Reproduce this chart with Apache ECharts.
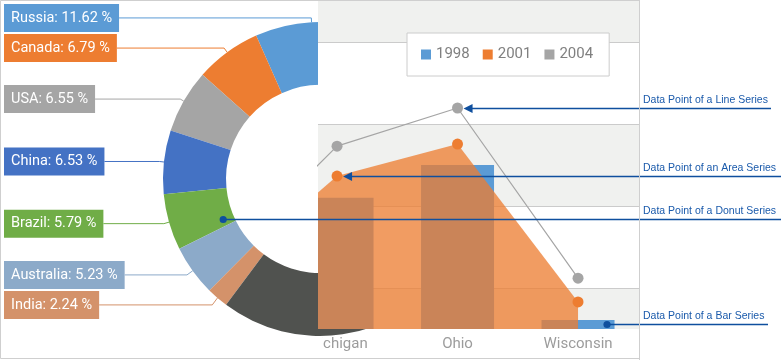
<!DOCTYPE html>
<html><head><meta charset="utf-8">
<script src="https://cdn.jsdelivr.net/npm/echarts@6/dist/echarts.min.js"></script>
<style>html,body{margin:0;padding:0;background:#fff}#c{width:781px;height:360px}</style>
</head><body><div id="c"></div>
<script>
// ---- cartesian data (Great Lakes states; Indiana lies left of the cut) ----
const states = ['Indiana', 'Michigan', 'Ohio', 'Wisconsin'];
const statePos = [-1, 0, 1, 2];
const years = ['1998', '2001', '2004'];
const gsp1998 = [null, 3.2, 4.0, 0.22];
const gsp2001 = [1.2, 3.73, 4.51, 0.66];
const gsp2004 = [1.54, 4.46, 5.39, 1.24];
const bandRanges = [[0, 1], [3, 5], [7, 8]];
const gridLineValues = [1, 3, 5, 7];

// ---- donut data ----
const countries = ['Russia', 'Canada', 'USA', 'China', 'Brazil', 'Australia', 'India', 'Others'];
const shares = [11.62, 6.79, 6.55, 6.53, 5.79, 5.23, 2.24, 55.25];
const sliceColors = ['#5b9bd5', '#ed7d31', '#a5a5a5', '#4472c4', '#70ad47', '#8caac9', '#d4926a', '#50524f'];
const labelLineLens = [4.3, 5.3, 4, 4.6, 5.4, 7, 8, 4];

// ---- annotation texts ----
const notes = ['Data Point of a Line Series', 'Data Point of an Area Series', 'Data Point of a Donut Series', 'Data Point of a Bar Series'];

const pts = (vals) => statePos.map((x, i) => [x, vals[i]]).filter(p => p[1] != null);

const PIE_CENTER = [320, 179], PIE_R0 = 94, PIE_R = 157, PIE_START = 72.17;
const BAR_W = 73;

const chart = echarts.init(document.getElementById('c'));
const option = {
  animation: false,
  backgroundColor: '#fff',
  textStyle: { fontFamily: 'Roboto' },
  legend: {
    data: years, left: 407, top: 33, padding: [14, 16, 14, 14], itemGap: 13,
    itemWidth: 10, itemHeight: 10, icon: 'rect', selectedMode: false,
    backgroundColor: '#fff', borderColor: '#cccccc', borderWidth: 1,
    textStyle: { color: '#808080', fontSize: 15, fontFamily: 'Roboto' },
    zlevel: 1, z: 10
  },
  grid: { left: 318, right: 142, top: 1, bottom: 31, show: true, backgroundColor: '#fff', borderWidth: 0, zlevel: 1, z: 0 },
  xAxis: {
    type: 'value', min: -0.158, max: 2.506, zlevel: 1,
    axisLine: { show: false }, axisTick: { show: false }, splitLine: { show: false },
    axisLabel: {
      customValues: [0, 1, 2], color: '#9c9c9c', fontSize: 15, margin: 8,
      formatter: v => states[statePos.indexOf(Math.round(v))]
    }
  },
  yAxis: { type: 'value', min: 0, max: 8, show: false, zlevel: 1 },
  series: [
    {
      type: 'custom', name: years[0], data: pts(gsp1998), zlevel: 1,
      itemStyle: { color: '#5b9bd5' },
      encode: { x: 0, y: 1 },
      renderItem: function (params, api) {
        const base = api.coord([api.value(0), 0]);
        const top = api.coord([api.value(0), api.value(1)]);
        const cs = params.coordSys;
        const r = echarts.graphic.clipRectByRect(
          { x: base[0] - BAR_W / 2, y: top[1], width: BAR_W, height: base[1] - top[1] },
          { x: cs.x, y: cs.y, width: cs.width, height: cs.height });
        return r && { type: 'rect', shape: r, style: { fill: '#5b9bd5' } };
      },
      markArea: { silent: true, zlevel: 1, z: 0.5, itemStyle: { color: '#f0f1ef' },
        data: bandRanges.map(r => [{ yAxis: r[0] }, { yAxis: r[1] }]) },
      markLine: { silent: true, zlevel: 1, z: 1, symbol: 'none', label: { show: false },
        lineStyle: { color: '#cbcbcb', width: 1, type: 'solid' },
        data: gridLineValues.map(v => ({ yAxis: v })) }
    },
    {
      type: 'line', name: years[1], data: pts(gsp2001), zlevel: 1,
      areaStyle: { color: '#ed7d31', opacity: 0.76 }, lineStyle: { width: 0 },
      symbol: 'circle', symbolSize: 11, itemStyle: { color: '#ed7d31', borderWidth: 0 }
    },
    {
      type: 'line', name: years[2], data: pts(gsp2004), zlevel: 1,
      lineStyle: { color: '#a5a5a5', width: 1.2 },
      symbol: 'circle', symbolSize: 11, itemStyle: { color: '#a5a5a5', borderWidth: 0 }
    },
    {
      type: 'pie', name: 'area', zlevel: 0, center: PIE_CENTER, radius: [PIE_R0, PIE_R],
      startAngle: PIE_START, clockwise: false, silent: true,
      label: {
        show: true, position: 'outside', alignTo: 'edge', edgeDistance: 4, distanceToLabelLine: 0,
        color: '#fff', fontSize: 14.5, fontFamily: 'Roboto', lineHeight: 16, padding: [6, 7, 6, 7],
        formatter: p => p.name + ': ' + p.value.toFixed(2) + ' %'
      },
      labelLine: { show: true, length: 4, length2: 0, smooth: false, lineStyle: { width: 1 } },
      data: countries.map((n, i) => ({
        name: n, value: shares[i], itemStyle: { color: sliceColors[i] },
        label: i < 7 ? { backgroundColor: sliceColors[i] } : { show: false },
        labelLine: i < 7 ? { length: labelLineLens[i] } : { show: false }
      }))
    }
  ]
};
chart.setOption(option);

// ---- annotations anchored to data points ----
const toPx = (x, y) => chart.convertToPixel({ gridIndex: 0 }, [x, y]);
const lineP = toPx(statePos[2], gsp2004[2]);
const areaP = toPx(statePos[1], gsp2001[1]);
const barC = toPx(statePos[3], gsp1998[3] / 2);
const barP = [barC[0] + BAR_W / 2 - 7.5, barC[1]];
// donut point inside Brazil slice
const total = shares.reduce((a, b) => a + b, 0);
let cum = 0; for (let i = 0; i < 4; i++) cum += shares[i];
const startTop = PIE_START - 90;
const a0 = startTop + cum / total * 360, a1 = a0 + shares[4] / total * 360;
const th = (a0 + 0.81 * (a1 - a0)) * Math.PI / 180;
const rho = PIE_R0 + 0.17 * (PIE_R - PIE_R0);
const donutP = [PIE_CENTER[0] - rho * Math.sin(th), PIE_CENTER[1] - rho * Math.cos(th)];

const BLUE = '#0f4f9e', TXT = '#1a5aab';
const g = [];
g.push({ type: 'rect', shape: { x: 298, y: 337, width: 24, height: 20 }, style: { fill: '#fff' }, zlevel: 2, silent: true });
g.push({ type: 'rect', shape: { x: 0.5, y: 0.5, width: 639, height: 358 }, style: { fill: 'none', stroke: '#cfcfcf', lineWidth: 1 }, zlevel: 2, silent: true });
function arrowNote(p, endX, text, tipGap) {
  const y = Math.round(p[1]) + 0.5;
  const tip = p[0] + tipGap;
  g.push({ type: 'polygon', shape: { points: [[tip, y], [tip + 9, y - 4.5], [tip + 9, y + 4.5]] }, style: { fill: BLUE }, zlevel: 2, silent: true });
  g.push({ type: 'line', shape: { x1: tip + 8, y1: y, x2: endX, y2: y }, style: { stroke: BLUE, lineWidth: 1.3 }, zlevel: 2, silent: true });
  g.push({ type: 'text', x: 643, y: y - 8.5, style: { text: text, fill: TXT, fontSize: 10.5, fontFamily: 'Liberation Sans', verticalAlign: 'middle', align: 'left' }, zlevel: 2, silent: true });
}
function dotNote(p, endX, text) {
  const y = Math.round(p[1]) + 0.5;
  g.push({ type: 'line', shape: { x1: p[0], y1: y, x2: endX, y2: y }, style: { stroke: BLUE, lineWidth: 1.3 }, zlevel: 2, silent: true });
  g.push({ type: 'circle', shape: { cx: p[0], cy: y, r: 3.6 }, style: { fill: BLUE }, zlevel: 2, silent: true });
  g.push({ type: 'text', x: 643, y: y - 8.5, style: { text: text, fill: TXT, fontSize: 10.5, fontFamily: 'Liberation Sans', verticalAlign: 'middle', align: 'left' }, zlevel: 2, silent: true });
}
arrowNote(lineP, 771, notes[0], 6);
arrowNote(areaP, 781, notes[1], 6);
dotNote(donutP, 781, notes[2]);
dotNote(barP, 768, notes[3]);
g.push({ type: 'line', shape: { x1: 639.5, y1: 0, x2: 639.5, y2: 360 }, style: { stroke: '#cfcfcf', lineWidth: 1 }, zlevel: 2, silent: true });
chart.setOption({ graphic: g });
</script></body></html>
